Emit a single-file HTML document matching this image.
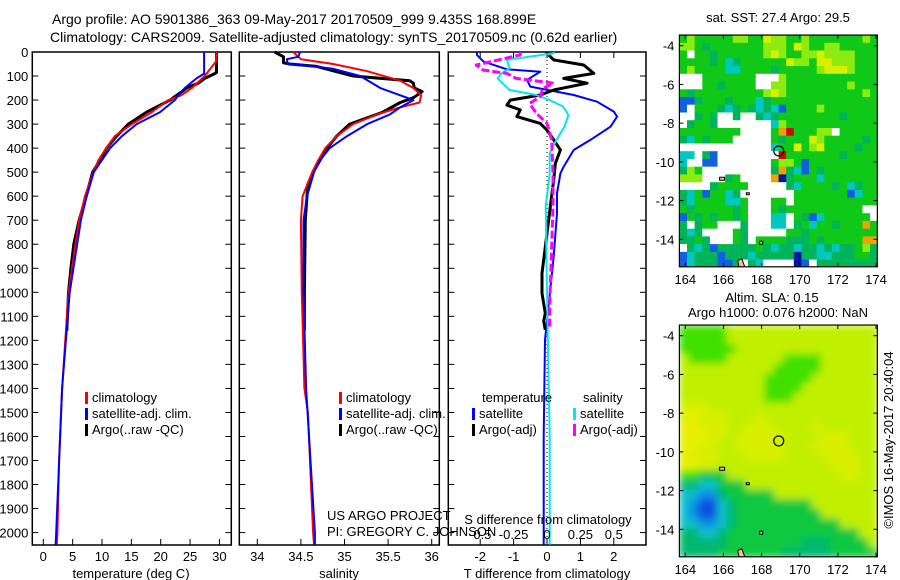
<!DOCTYPE html>
<html><head><meta charset="utf-8"><style>
html,body{margin:0;padding:0;background:#fff;}
svg{display:block;font-family:"Liberation Sans",Arial,sans-serif;}
text{font-size:13px;fill:#000;}
</style></head><body>
<svg id="fig" width="900" height="580" viewBox="0 0 900 580" xmlns="http://www.w3.org/2000/svg">
<text x="52" y="24" style="font-size:14px">Argo profile: AO 5901386_363 09-May-2017 20170509_999 9.435S 168.899E</text>
<text x="50" y="42" style="font-size:14px">Climatology: CARS2009. Satellite-adjusted climatology: synTS_20170509.nc (0.62d earlier)</text>
<g id="p1"></g>
<g id="p2"></g>
<g id="p3"></g>
<g id="m1"></g>
<g id="m2"></g>
<text x="778" y="22" text-anchor="middle">sat. SST: 27.4 Argo: 29.5</text>
<text x="772" y="302" text-anchor="middle">Altim. SLA: 0.15</text>
<text x="778" y="317" text-anchor="middle">Argo h1000: 0.076 h2000: NaN</text>
<text transform="translate(893,440) rotate(-90)" text-anchor="middle">©IMOS 16-May-2017 20:40:04</text>
<text x="327" y="520">US ARGO PROJECT</text>
<text x="327" y="536">PI: GREGORY C. JOHNSON</text>
</svg>
<script>
// ---- profile data ----
const depthTclim=[0,40,100,150,180,200,250,300,350,400,450,500,600,700,1000,1400,1700,2000,2050];
const tempClim=[29.5,29.4,27.5,25.3,23.5,21.3,18.5,15.1,12.2,10.7,9.4,8.5,7.1,6.1,4.3,3.2,2.7,2.4,2.3];
const depthTsat=[0,90,110,150,180,200,250,300,350,400,450,500,600,700,1000,1400,2000,2050];
const tempSat=[27.4,27.4,26.1,24.1,23.0,22.4,19.9,15.9,13.4,11.4,10.0,8.6,7.4,6.4,4.5,3.2,2.2,2.1];
const depthTargo=[0,85,90,110,130,150,170,200,250,300,350,400,450,500,600,700,800,900,1000,1160];
const tempArgo=[29.5,29.5,29.2,27.5,26.4,24.4,23.3,21.6,17.6,14.5,12.5,10.8,9.7,8.4,7.3,6.1,5.2,4.7,4.3,4.0];

const depthSclim=[0,30,50,80,120,150,180,210,230,260,300,350,400,450,500,600,700,1000,1400,1500,2000,2050];
const salClim=[34.41,34.5,34.87,35.26,35.64,35.79,35.88,35.86,35.64,35.37,35.10,34.91,34.78,34.70,34.63,34.52,34.50,34.51,34.54,34.58,34.64,34.65];
const depthSsat=[0,20,30,50,55,70,100,150,180,200,230,260,300,350,400,450,500,600,700,1000,1400,2000,2050];
const salSat=[34.49,34.47,34.34,34.35,34.53,34.87,35.18,35.41,35.64,35.79,35.64,35.52,35.26,35.03,34.83,34.72,34.65,34.57,34.53,34.53,34.56,34.66,34.66];
const depthSargo=[0,20,45,50,60,100,120,130,150,165,190,210,250,300,350,400,450,500,550,600,700,1000,1160];
const salArgo=[34.2,34.3,34.3,34.37,34.68,35.1,35.75,35.79,35.8,35.89,35.79,35.64,35.44,35.06,34.91,34.8,34.72,34.64,34.58,34.57,34.55,34.54,34.54];

const depthDTsat=[0,12,40,72,82,116,144,179,207,248,269,311,366,408,477,505,588,671,852,1198,1600,2050];
const dTsat=[-2.1,-2.1,-1.9,-1.2,-0.2,-0.6,-0.5,0.8,1.5,2.0,2.1,1.9,1.3,0.8,0.5,0.4,0.3,0.3,0.2,-0.06,-0.1,-0.1];
const depthDTargo=[0,5,33,54,89,110,130,158,179,200,221,241,269,297,325,366,408,463,533,644,755,921,1004,1087,1120,1156];
const dTargo=[0,0,0.2,1.1,1.4,0.5,1.2,0.2,-0.2,-1.1,-1.2,-0.8,-0.9,-0.2,0,0.2,0.4,0.25,0.2,0.1,0,-0.15,-0.15,-0.05,-0.1,-0.05];
const depthDSsat=[0,5,33,68,89,110,158,179,200,227,262,311,366,422,505,644,1000,1300,1600,2050];
const dSsat=[0.05,0.05,-0.3,-0.28,-0.34,-0.37,-0.28,-0.08,0.02,0.12,0.16,0.13,0.07,0.02,0.02,-0.01,0.0,0.01,0.02,0.02];
const depthDSargo=[0,12,54,75,89,110,130,151,186,214,255,297,366,505,644,900,1050,1143];
const dSargo=[-0.2,-0.2,-0.53,-0.48,-0.3,-0.23,0.05,-0.03,-0.05,-0.13,-0.08,0,0.035,0.045,0.045,0.03,0.02,0.02];

const depthTicks=[0,100,200,300,400,500,600,700,800,900,1000,1100,1200,1300,1400,1500,1600,1700,1800,1900,2000];
const tempTicks=[0,5,10,15,20,25,30];
const salTicks=[34,34.5,35,35.5,36];
const dTTicks=[-2,-1,0,1,2];
const dSTicks=[-0.5,-0.25,0,0.25,0.5];
const dSTickLabels=["-0.5","-0.25","0","0.25","0.5"];

// ---- map data ----
const sstRows=[
"GyGGGGGyyGGYyyGGyGGGGGGGyG","yyGgGGGGGGGyyyGYyGGyyGGGGG","GwGGgGGGGGGyYyGGyyYyyyyGGG",
"GGGGgGcgGGGGGGYyyGYYyyyGGG","GyGGGGccGGGGgGGGGGyYYYyGGG","wwwGGGGGGGwwwyGGGGGGGGGGGG",
"wwwGGgGGGGwwyyGGGGGGGGyGGG","GgGGGGGGGGGyYyGGGGGGGGGGyG","bbgGGGgGGGcgGGGGGGGGGGGGGG",
"bwGGGgcgGgcgcbGGGGyGGGGGGG","wwgGgwwgwwgcgGGGGGGGGgGGGG","wgGGgwwwwwwwcyGGGGGGGGGGGG",
"GGGGGGGGwwwwGorGGGyywGGGGG","gcGgGGGwwwwwGgGGGYyGGGGGgG","wwwwwwwwwwwwcGGYGyYGGGGgGG",
"ccwgbwwwwwwwwrGGGGGGGgGGGG","cwwbbwwwwwwwGyyGbGGGGGGGGG","gyGwwwwwwwwwgogcbGgGGGGGGG",
"yyywwwgGwwwwoBgGGGcGGGGGGG","wwwwgGGGGwwwwwgcGGGGgGcgGG","gcGbGGcgwwwwwwwGGGGGGGbcGG",
"gcGGGGccGwwwGGwGGGGGGGGGGG","GgGGGGGgGwwwGgGGGGGGGGGGww","bGgGgGGgGwwwccwGgbcGGGGGGw",
"gwgGGwwwgwwwccwgGcGGgGGGoG","gcgwwwwGgwwwwwGGgGGGGGGGGG","ggGgwwwGgwGGGGgggGgGGGGGoo",
"wgcgbgggggGgcggcggcgcggGyg","bcgggbgggcgggggBggccgggGGg","bcgggbbgwgcwwwwBbwgggggggg"];
const sstColors={G:"#10c818",g:"#00b45a",y:"#8cec10",Y:"#d8f000",c:"#00c8c0",b:"#1060e0",B:"#0018a0",o:"#f0a000",r:"#c81000",w:"#ffffff"};
const slaRows=[
"555557777777777777777","555557777777777777777","555555777777777777777","755557777775555777777",
"777777777755555777777","777777777555557777777","777777777555577777777","777777777555777777777",
"888777777777777777777","898887778777777777777","998887788877778777777","999887888887777888777",
"998877888887778888777","988877788887777888877","998877777777777788877","554447777777777778877",
"332244477777777777777","221134444477777777777","210023444444447777777","210023444444444777777",
"221123444444444447777","332234444444444444477","333334444444433344447","333344444443333344444"];
const slaColors=["#1050e0","#1090e8","#10c0c8","#00b870","#10c840","#40e000","#a0f000","#c0f000","#d8f000","#e8f000"];
const floatLon=168.899, floatLat=-9.435;
const lonTicks=[164,166,168,170,172,174];
const latTicks=[-4,-6,-8,-10,-12,-14];

const NS="http://www.w3.org/2000/svg";
function mk(parent,tag,attrs){const e=document.createElementNS(NS,tag);for(const k in attrs)e.setAttribute(k,attrs[k]);parent.appendChild(e);return e;}

const yD=d=>52+d*0.2403;
const xT=t=>43.3+t*5.87;
const xS=s=>257.3+(s-34)*87.2;
const xDT=v=>547+v*33.4;
const xDS=v=>547+v*133.6;

function frame(g,x0,x1,name){
  const r=mk(g,"rect",{x:x0,y:52,width:x1-x0,height:493,fill:"none",stroke:"#000","stroke-width":1.5});
  
  
}
function depthTicksDraw(g,x0,x1,labels){
  depthTicks.forEach(d=>{
    const y=yD(d);
    mk(g,"line",{x1:x0,y1:y,x2:x0+6,y2:y,stroke:"#000"});
    mk(g,"line",{x1:x1-6,y1:y,x2:x1,y2:y,stroke:"#000"});
    if(labels){const t=mk(g,"text",{x:x0-4,y:y+5,"text-anchor":"end"});t.textContent=d;
      
      }
  });
}
function xTicks(g,vals,fx,labels,y){
  vals.forEach((v,i)=>{
    const x=fx(v);
    mk(g,"line",{x1:x,y1:545,x2:x,y2:539,stroke:"#000"});
    const t=mk(g,"text",{x:x,y:y,"text-anchor":"middle"});t.textContent=labels?labels[i]:v;
    
    
  });
}
function line(g,ds,vs,fx,color,w,name,dash){
  const pts=ds.map((d,i)=>fx(vs[i]).toFixed(1)+","+yD(d).toFixed(1)).join(" ");
  const p=mk(g,"polyline",{points:pts,fill:"none",stroke:color,"stroke-width":w,"stroke-linejoin":"round"});
  if(dash)p.setAttribute("stroke-dasharray",dash);
  
  
}
function legendEntry(g,x,y,color,label,name){
  mk(g,"rect",{x:x,y:y-10,width:3,height:12,fill:color});
  const t=mk(g,"text",{x:x+7,y:y});t.textContent=label;
  
  
}

// Panel 1
const p1=document.getElementById("p1");
frame(p1,32.3,231.3,'temperature-axes-frame');
depthTicksDraw(p1,32.3,231.3,true);
xTicks(p1,tempTicks,xT,null,561);
line(p1,depthTargo,tempArgo,xT,"#000",3,'temp-argo-line');
line(p1,depthTclim,tempClim,xT,"#ff0000",2,'temp-climatology-line');
line(p1,depthTsat,tempSat,xT,"#0000ff",2,'temp-satellite-line');
{const t=mk(p1,"text",{x:131,y:578,"text-anchor":"middle"});t.textContent="temperature (deg C)";

}
legendEntry(p1,85,402,"#ff0000","climatology",'legend-climatology');
legendEntry(p1,85,418,"#0000ff","satellite-adj. clim.",'legend-satellite');
legendEntry(p1,85,434,"#000","Argo(..raw -QC)",'legend-argo');

// Panel 2
const p2=document.getElementById("p2");
frame(p2,239.3,439.3,'salinity-axes-frame');
depthTicksDraw(p2,239.3,439.3,false);
xTicks(p2,salTicks,xS,null,561);
line(p2,depthSargo,salArgo,xS,"#000",3,'sal-argo-line');
line(p2,depthSclim,salClim,xS,"#ff0000",2,'sal-climatology-line');
line(p2,depthSsat,salSat,xS,"#0000ff",2,'sal-satellite-line');
{const t=mk(p2,"text",{x:339,y:578,"text-anchor":"middle"});t.textContent="salinity";

}
legendEntry(p2,339,402,"#ff0000","climatology",'legend-climatology-2');
legendEntry(p2,339,418,"#0000ff","satellite-adj. clim.",'legend-satellite-2');
legendEntry(p2,339,434,"#000","Argo(..raw -QC)",'legend-argo-2');

// Panel 3
const p3=document.getElementById("p3");
frame(p3,448.3,646,'difference-axes-frame');
depthTicksDraw(p3,448.3,646,false);
xTicks(p3,dTTicks,xDT,null,561);
dSTicks.forEach(v=>{mk(p3,"line",{x1:xDS(v),y1:52,x2:xDS(v),y2:58,stroke:"#000"});});
mk(p3,"line",{x1:547,y1:52,x2:547,y2:545,stroke:"#000","stroke-dasharray":"1,3"});
line(p3,depthDTsat,dTsat,xDT,"#0000ff",2,'tdiff-satellite-line');
line(p3,depthDTargo,dTargo,xDT,"#000",3,'tdiff-argo-line');
line(p3,depthDSsat,dSsat,xDS,"#00e8e8",2,'sdiff-satellite-line');
line(p3,depthDSargo,dSargo,xDS,"#ff00ff",3,'sdiff-argo-line',"8,3");
dSTicks.forEach((v,i)=>{const t=mk(p3,"text",{x:xDS(v),y:539,"text-anchor":"middle"});t.textContent=dSTickLabels[i];

});
{const t=mk(p3,"text",{x:548,y:524,"text-anchor":"middle"});t.textContent="S difference from climatology";

}
{const t=mk(p3,"text",{x:547,y:578,"text-anchor":"middle"});t.textContent="T difference from climatology";

}
{const t=mk(p3,"text",{x:482,y:402});t.textContent="temperature";

}
{const t=mk(p3,"text",{x:583,y:402});t.textContent="salinity";

}
legendEntry(p3,472,418,"#0000ff","satellite",'legend-t-satellite');
legendEntry(p3,472,434,"#000","Argo(-adj)",'legend-t-argo');
legendEntry(p3,573,418,"#00e8e8","satellite",'legend-s-satellite');
legendEntry(p3,573,434,"#ff00ff","Argo(-adj)",'legend-s-argo');

// Maps
const xL=lon=>685.3+(lon-164)*19.07;
function drawMap(g,top,rows,colorFn,dlon,dlat,name,blur){
  const yLat=lat=>top+10.7+(-4-lat)*19.36;
  const lon0=163.69, lat0=-3.45, lonEnd=174.07, latEnd=-15.42;
  const clipId=name+"-clip";
  const cp=mk(g,"clipPath",{id:clipId});
  mk(cp,"rect",{x:xL(lon0),y:yLat(lat0),width:xL(lonEnd)-xL(lon0),height:yLat(latEnd)-yLat(lat0)});
  const cells=mk(g,"g",{"clip-path":"url(#"+clipId+")"});
  if(blur){
    const f=mk(g,"filter",{id:name+"-blur",x:"-5%",y:"-5%",width:"110%",height:"110%"});
    mk(f,"feGaussianBlur",{stdDeviation:4});
  }
  const inner=mk(cells,"g",blur?{filter:"url(#"+name+"-blur)"}:{});
  rows.forEach((row,r)=>{
    for(let c=0;c<row.length;c++){
      const lonA=lon0+c*dlon, latA=lat0-r*dlat;
      const x=xL(lonA), y=yLat(latA);
      const rc=mk(inner,"rect",{x:x.toFixed(1),y:y.toFixed(1),width:(dlon*19.07+0.6).toFixed(1),height:(dlat*19.36+0.6).toFixed(1),fill:colorFn(row[c])});
      
      
    }
  });
  [[166.75,-15.1,"M0,0 l4,-2 l3,8 l-5,4 z"],[165.8,-10.8,"M0,0 l5,0 l0,3 l-5,0 z"],[167.9,-14.1,"M0,0 l3,0 l0,3 l-3,0 z"],[167.2,-11.6,"M0,0 l3,0 l0,2 l-3,0z"]].forEach(s=>{
    const p=mk(cells,"path",{d:s[2],transform:"translate("+xL(s[0]).toFixed(1)+","+yLat(s[1]).toFixed(1)+")",fill:"#f0c090",stroke:"#000","stroke-width":1});
    
    
  });
  const fr=mk(g,"rect",{x:xL(lon0),y:yLat(lat0),width:xL(lonEnd)-xL(lon0),height:yLat(latEnd)-yLat(lat0),fill:"none",stroke:"#000","stroke-width":1.2});
  
  
  const circ=mk(g,"circle",{cx:xL(floatLon),cy:yLat(floatLat),r:5,fill:"none",stroke:"#000","stroke-width":1.2});
  
  
  lonTicks.forEach(l=>{
    const x=xL(l),yb=yLat(latEnd);
    mk(g,"line",{x1:x,y1:yb,x2:x,y2:yb-4,stroke:"#000"});
    mk(g,"line",{x1:x,y1:yLat(lat0),x2:x,y2:yLat(lat0)+4,stroke:"#000"});
    const t=mk(g,"text",{x:x,y:yb+17,"text-anchor":"middle","font-size":"14"});t.textContent=l;
    
    
  });
  latTicks.forEach(l=>{
    const y=yLat(l);
    mk(g,"line",{x1:xL(lon0),y1:y,x2:xL(lon0)+4,y2:y,stroke:"#000"});
    mk(g,"line",{x1:xL(lonEnd),y1:y,x2:xL(lonEnd)-4,y2:y,stroke:"#000"});
    const t=mk(g,"text",{x:xL(lon0)-5,y:y+5,"text-anchor":"end","font-size":"14"});t.textContent=l;
    
    
  });
}
drawMap(document.getElementById("m1"),35,sstRows,ch=>sstColors[ch],0.4,0.4,"sst",false);
drawMap(document.getElementById("m2"),325,slaRows,ch=>slaColors[+ch],0.495,0.5,"sla",true);
</script>
</body></html>
